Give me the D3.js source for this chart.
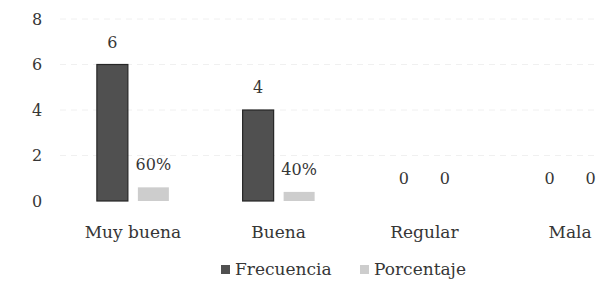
<!DOCTYPE html>
<html>
<head>
<meta charset="utf-8">
<script src="https://cdn.jsdelivr.net/npm/d3@7"></script>
<style>
  body { margin: 0; background: #fff; }
  svg text { font-family: "DejaVu Serif", "Liberation Serif", "Times New Roman", serif !important; fill: #363636; }
</style>
</head>
<body>
<div id="viz"></div>
<script>
/***************** Data *********************/
var categories = ["Muy buena", "Buena", "Regular", "Mala"];
var frecuencia = [6, 4, 0, 0];
var porcentaje = [0.6, 0.4, 0, 0];
var pctLabels = ["60%", "40%", "0", "0"];
var yTicks = [0, 2, 4, 6, 8];
var seriesNames = ["Frecuencia", "Porcentaje"];

var w = 598, h = 293,
    dark_color = "#505050",
    light_color = "#cdcdcd",
    grid_color = "#f0f0f0";

var svg = d3.select("#viz")
  .append("svg")
  .attr("width", w)
  .attr("height", h);

/* Scales - the plot runs past the right edge like the cropped scan */
var x = d3.scaleBand().domain(categories).range([60, 643]).paddingInner(0).paddingOuter(0);
var y = d3.scaleLinear().domain([0, 8]).range([201, 19]);

var barW = 31, gap = 10;

/* Gridlines */
svg.selectAll(".grid").data(yTicks.slice(1))
  .enter().append("line")
  .attr("class", "grid")
  .attr("x1", 60).attr("x2", w)
  .attr("y1", function(d) { return y(d); })
  .attr("y2", function(d) { return y(d); })
  .attr("stroke", grid_color)
  .attr("stroke-dasharray", "6,5");

/* Y-Axis labels */
var yAxis = d3.axisLeft(y).tickValues(yTicks).tickSize(0).tickPadding(0);
var gy = svg.append("g").attr("transform", "translate(37,0)").call(yAxis);
gy.attr("font-family", null);
gy.select(".domain").remove();
gy.selectAll("text")
  .style("font-size", "16px")
  .attr("text-anchor", "middle");

/* X-Axis labels */
var xAxis = d3.axisBottom(x).tickSize(0).tickPadding(0);
var gx = svg.append("g").attr("transform", "translate(0,226)").call(xAxis);
gx.attr("font-family", null);
gx.select(".domain").remove();
gx.selectAll("text")
  .style("font-size", "17px");

var cx = function(i) { return x(categories[i]) + x.bandwidth() / 2; };

/* Frecuencia bars */
svg.selectAll(".frec").data(frecuencia)
  .enter().append("rect")
  .attr("class", "frec")
  .attr("x", function(d, i) { return cx(i) - gap / 2 - barW; })
  .attr("y", function(d) { return y(d); })
  .attr("width", barW)
  .attr("height", function(d) { return y(0) - y(d); })
  .attr("fill", dark_color)
  .attr("stroke", "#262626")
  .attr("stroke-width", 1.2);

/* Porcentaje bars */
svg.selectAll(".pct").data(porcentaje)
  .enter().append("rect")
  .attr("class", "pct")
  .attr("x", function(d, i) { return cx(i) + gap / 2; })
  .attr("y", function(d) { return y(d); })
  .attr("width", barW)
  .attr("height", function(d) { return y(0) - y(d); })
  .attr("fill", light_color);

/* Value labels */
svg.selectAll(".frecLbl").data(frecuencia)
  .enter().append("text")
  .attr("class", "frecLbl")
  .attr("x", function(d, i) { return cx(i) - gap / 2 - barW / 2; })
  .attr("y", function(d) { return y(d) - 17; })
  .attr("text-anchor", "middle")
  .style("font-size", "16px")
  .text(function(d) { return d; });

svg.selectAll(".pctLbl").data(porcentaje)
  .enter().append("text")
  .attr("class", "pctLbl")
  .attr("x", function(d, i) { return cx(i) + gap / 2 + barW / 2; })
  .attr("y", function(d) { return y(d) - 17; })
  .attr("text-anchor", "middle")
  .style("font-size", "16px")
  .text(function(d, i) { return pctLabels[i]; });

/* Legend */
var legendX = [221, 360];
var legendColors = [dark_color, light_color];
var legend = svg.selectAll(".legend").data(seriesNames)
  .enter().append("g")
  .attr("class", "legend")
  .attr("transform", function(d, i) { return "translate(" + legendX[i] + ",270)"; });

legend.append("rect")
  .attr("x", 0).attr("y", -5)
  .attr("width", 9).attr("height", 9)
  .attr("fill", function(d, i) { return legendColors[i]; });

legend.append("text")
  .attr("x", 14)
  .attr("y", 5)
  .style("font-size", "17px")
  .text(function(d) { return d; });
</script>
</body>
</html>
